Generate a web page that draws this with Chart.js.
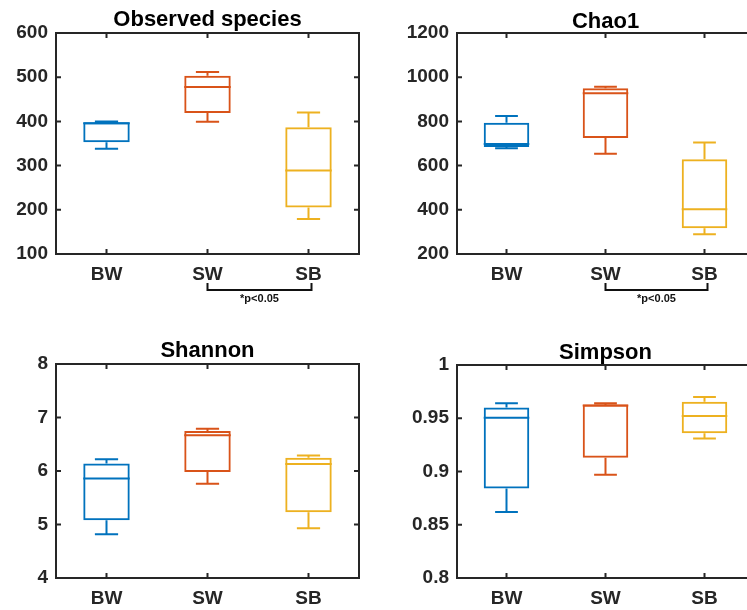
<!DOCTYPE html>
<html>
<head>
<meta charset="utf-8">
<script src="https://cdn.jsdelivr.net/npm/chart.js@4"></script>
<style>
  html, body { margin: 0; padding: 0; background: #fff; overflow: hidden; }
  #wrap { position: relative; width: 747px; height: 610px; overflow: hidden; }
  #wrap canvas { position: absolute; }
</style>
</head>
<body>
<div id="wrap">
  <canvas id="obs" width="370" height="310" style="left:0;top:0"></canvas>
  <canvas id="chao" width="400" height="310" style="left:370px;top:0"></canvas>
  <canvas id="shan" width="370" height="300" style="left:0;top:310px"></canvas>
  <canvas id="simp" width="400" height="300" style="left:370px;top:310px"></canvas>
</div>
<script>
var groups = ['BW', 'SW', 'SB'];
var boxColors = ['#0072BD', '#D95319', '#EDB120'];

// observed species
var obsMin = [338, 399, 179];
var obsQ1  = [353, 419, 205];
var obsMed = [396, 478, 289];
var obsQ3  = [398, 503, 387];
var obsMax = [400, 512, 420];

// chao1
var chaoMin = [678, 654, 289];
var chaoQ1  = [684, 725, 316];
var chaoMed = [698, 927, 402];
var chaoQ3  = [794, 950, 629];
var chaoMax = [824, 957, 704];

// shannon
var shanMin = [4.82, 5.76, 4.93];
var shanQ1  = [5.08, 5.98, 5.23];
var shanMed = [5.86, 6.67, 6.13];
var shanQ3  = [6.14, 6.75, 6.25];
var shanMax = [6.22, 6.79, 6.29];

// simpson
var simpMin = [0.862, 0.897, 0.931];
var simpQ1  = [0.884, 0.913, 0.936];
var simpMed = [0.9505, 0.962, 0.952];
var simpQ3  = [0.960, 0.963, 0.9655];
var simpMax = [0.964, 0.964, 0.970];

var sigText = '*p<0.05';
var sigPair = [1, 2];   // SW vs SB

var FONT = "'Liberation Sans', Arial, Helvetica, sans-serif";
var INK = '#262626';

// whiskers, medians, the axes box and the significance bracket
var boxPlugin = {
    id: 'boxExtras',
    afterDatasetsDraw: function (chart, args, opts) {
        var ctx = chart.ctx;
        var x = chart.scales.x, y = chart.scales.y;
        var meta = chart.getDatasetMeta(0);
        ctx.save();
        ctx.lineWidth = 2;
        for (var i = 0; i < groups.length; i++) {
            var bar = meta.data[i];
            var cx = x.getPixelForValue(i);
            var hw = bar.width / 2;
            var cap = hw / 2;
            ctx.strokeStyle = boxColors[i];
            ctx.beginPath();
            // median
            ctx.moveTo(cx - hw, y.getPixelForValue(opts.med[i]));
            ctx.lineTo(cx + hw, y.getPixelForValue(opts.med[i]));
            // upper whisker
            ctx.moveTo(cx, y.getPixelForValue(opts.q3[i]));
            ctx.lineTo(cx, y.getPixelForValue(opts.max[i]));
            ctx.moveTo(cx - cap, y.getPixelForValue(opts.max[i]));
            ctx.lineTo(cx + cap, y.getPixelForValue(opts.max[i]));
            // lower whisker
            ctx.moveTo(cx, y.getPixelForValue(opts.q1[i]));
            ctx.lineTo(cx, y.getPixelForValue(opts.min[i]));
            ctx.moveTo(cx - cap, y.getPixelForValue(opts.min[i]));
            ctx.lineTo(cx + cap, y.getPixelForValue(opts.min[i]));
            ctx.stroke();
        }
        ctx.restore();
    },
    afterDraw: function (chart, args, opts) {
        var ctx = chart.ctx;
        var a = chart.chartArea;
        var x = chart.scales.x, y = chart.scales.y;
        var tl = 5;
        ctx.save();
        ctx.strokeStyle = INK;
        ctx.lineWidth = 2;
        ctx.strokeRect(a.left, a.top, a.right - a.left, a.bottom - a.top);
        ctx.beginPath();
        y.ticks.forEach(function (t) {
            var py = y.getPixelForValue(t.value);
            ctx.moveTo(a.left, py); ctx.lineTo(a.left + tl, py);
            ctx.moveTo(a.right, py); ctx.lineTo(a.right - tl, py);
        });
        for (var i = 0; i < groups.length; i++) {
            var px = x.getPixelForValue(i);
            ctx.moveTo(px, a.bottom); ctx.lineTo(px, a.bottom - tl);
            ctx.moveTo(px, a.top); ctx.lineTo(px, a.top + tl);
        }
        ctx.stroke();

        if (opts.sig) {
            var x1 = x.getPixelForValue(sigPair[0]);
            var x2 = x.getPixelForValue(sigPair[1]) + 3;
            var yb = a.bottom + 36;
            ctx.strokeStyle = '#111';
            ctx.beginPath();
            ctx.moveTo(x1, a.bottom + 29);
            ctx.lineTo(x1, yb);
            ctx.lineTo(x2, yb);
            ctx.lineTo(x2, a.bottom + 29);
            ctx.stroke();
            ctx.fillStyle = '#111';
            ctx.font = 'bold 11px ' + FONT;
            ctx.textAlign = 'center';
            ctx.textBaseline = 'middle';
            ctx.fillText(sigText, (x1 + x2) / 2, yb + 9);
        }
        ctx.restore();
    }
};

function makePanel(id, title, st, yMin, yMax, yStep, dims, sig) {
    var ctx = document.getElementById(id).getContext('2d');
    return new Chart(ctx, {
        type: 'bar',
        data: {
            labels: groups,
            datasets: [{
                data: st.q1.map(function (v, i) { return [v, st.q3[i]]; }),
                backgroundColor: 'rgba(0,0,0,0)',
                borderColor: boxColors,
                borderWidth: 2,
                borderSkipped: false,
                categoryPercentage: 1,
                barPercentage: 0.46
            }]
        },
        options: {
            responsive: false,
            animation: false,
            layout: { padding: { left: 0, right: dims.padRight, top: 0, bottom: 0 } },
            plugins: {
                legend: { display: false },
                tooltip: { enabled: false },
                title: {
                    display: true,
                    fullSize: false,
                    text: title,
                    color: '#000',
                    font: { family: FONT, size: 22, weight: 'bold', lineHeight: 1 },
                    padding: { top: dims.titleTop, bottom: dims.titleBottom }
                },
                boxExtras: {
                    min: st.min, q1: st.q1, med: st.med, q3: st.q3, max: st.max, sig: sig
                }
            },
            scales: {
                x: {
                    grid: { display: false, drawTicks: false },
                    border: { display: false },
                    ticks: { color: INK, padding: 9, font: { family: FONT, size: 19, weight: 'bold' } },
                    afterFit: function (s) { s.height = dims.xHeight; }
                },
                y: {
                    min: yMin,
                    max: yMax,
                    grid: { display: false, drawTicks: false },
                    border: { display: false },
                    ticks: {
                        stepSize: yStep,
                        color: INK,
                        padding: 8,
                        font: { family: FONT, size: 19, weight: 'bold' },
                        callback: function (v) { return String(+Number(v).toFixed(3)); }
                    },
                    afterFit: function (s) { s.width = dims.yWidth; }
                }
            }
        },
        plugins: [boxPlugin]
    });
}

makePanel('obs', 'Observed species',
    { min: obsMin, q1: obsQ1, med: obsMed, q3: obsQ3, max: obsMax },
    100, 600, 100,
    { yWidth: 56, padRight: 11, xHeight: 56, titleTop: 9, titleBottom: 2 }, true);

makePanel('chao', 'Chao1',
    { min: chaoMin, q1: chaoQ1, med: chaoMed, q3: chaoQ3, max: chaoMax },
    200, 1200, 200,
    { yWidth: 87, padRight: 16, xHeight: 56, titleTop: 10.5, titleBottom: 0.5 }, true);

makePanel('shan', 'Shannon',
    { min: shanMin, q1: shanQ1, med: shanMed, q3: shanQ3, max: shanMax },
    4, 8, 1,
    { yWidth: 56, padRight: 11, xHeight: 32, titleTop: 30, titleBottom: 2 }, false);

makePanel('simp', 'Simpson',
    { min: simpMin, q1: simpQ1, med: simpMed, q3: simpQ3, max: simpMax },
    0.8, 1, 0.05,
    { yWidth: 87, padRight: 16, xHeight: 32, titleTop: 31.5, titleBottom: 1.5 }, false);
</script>
</body>
</html>
